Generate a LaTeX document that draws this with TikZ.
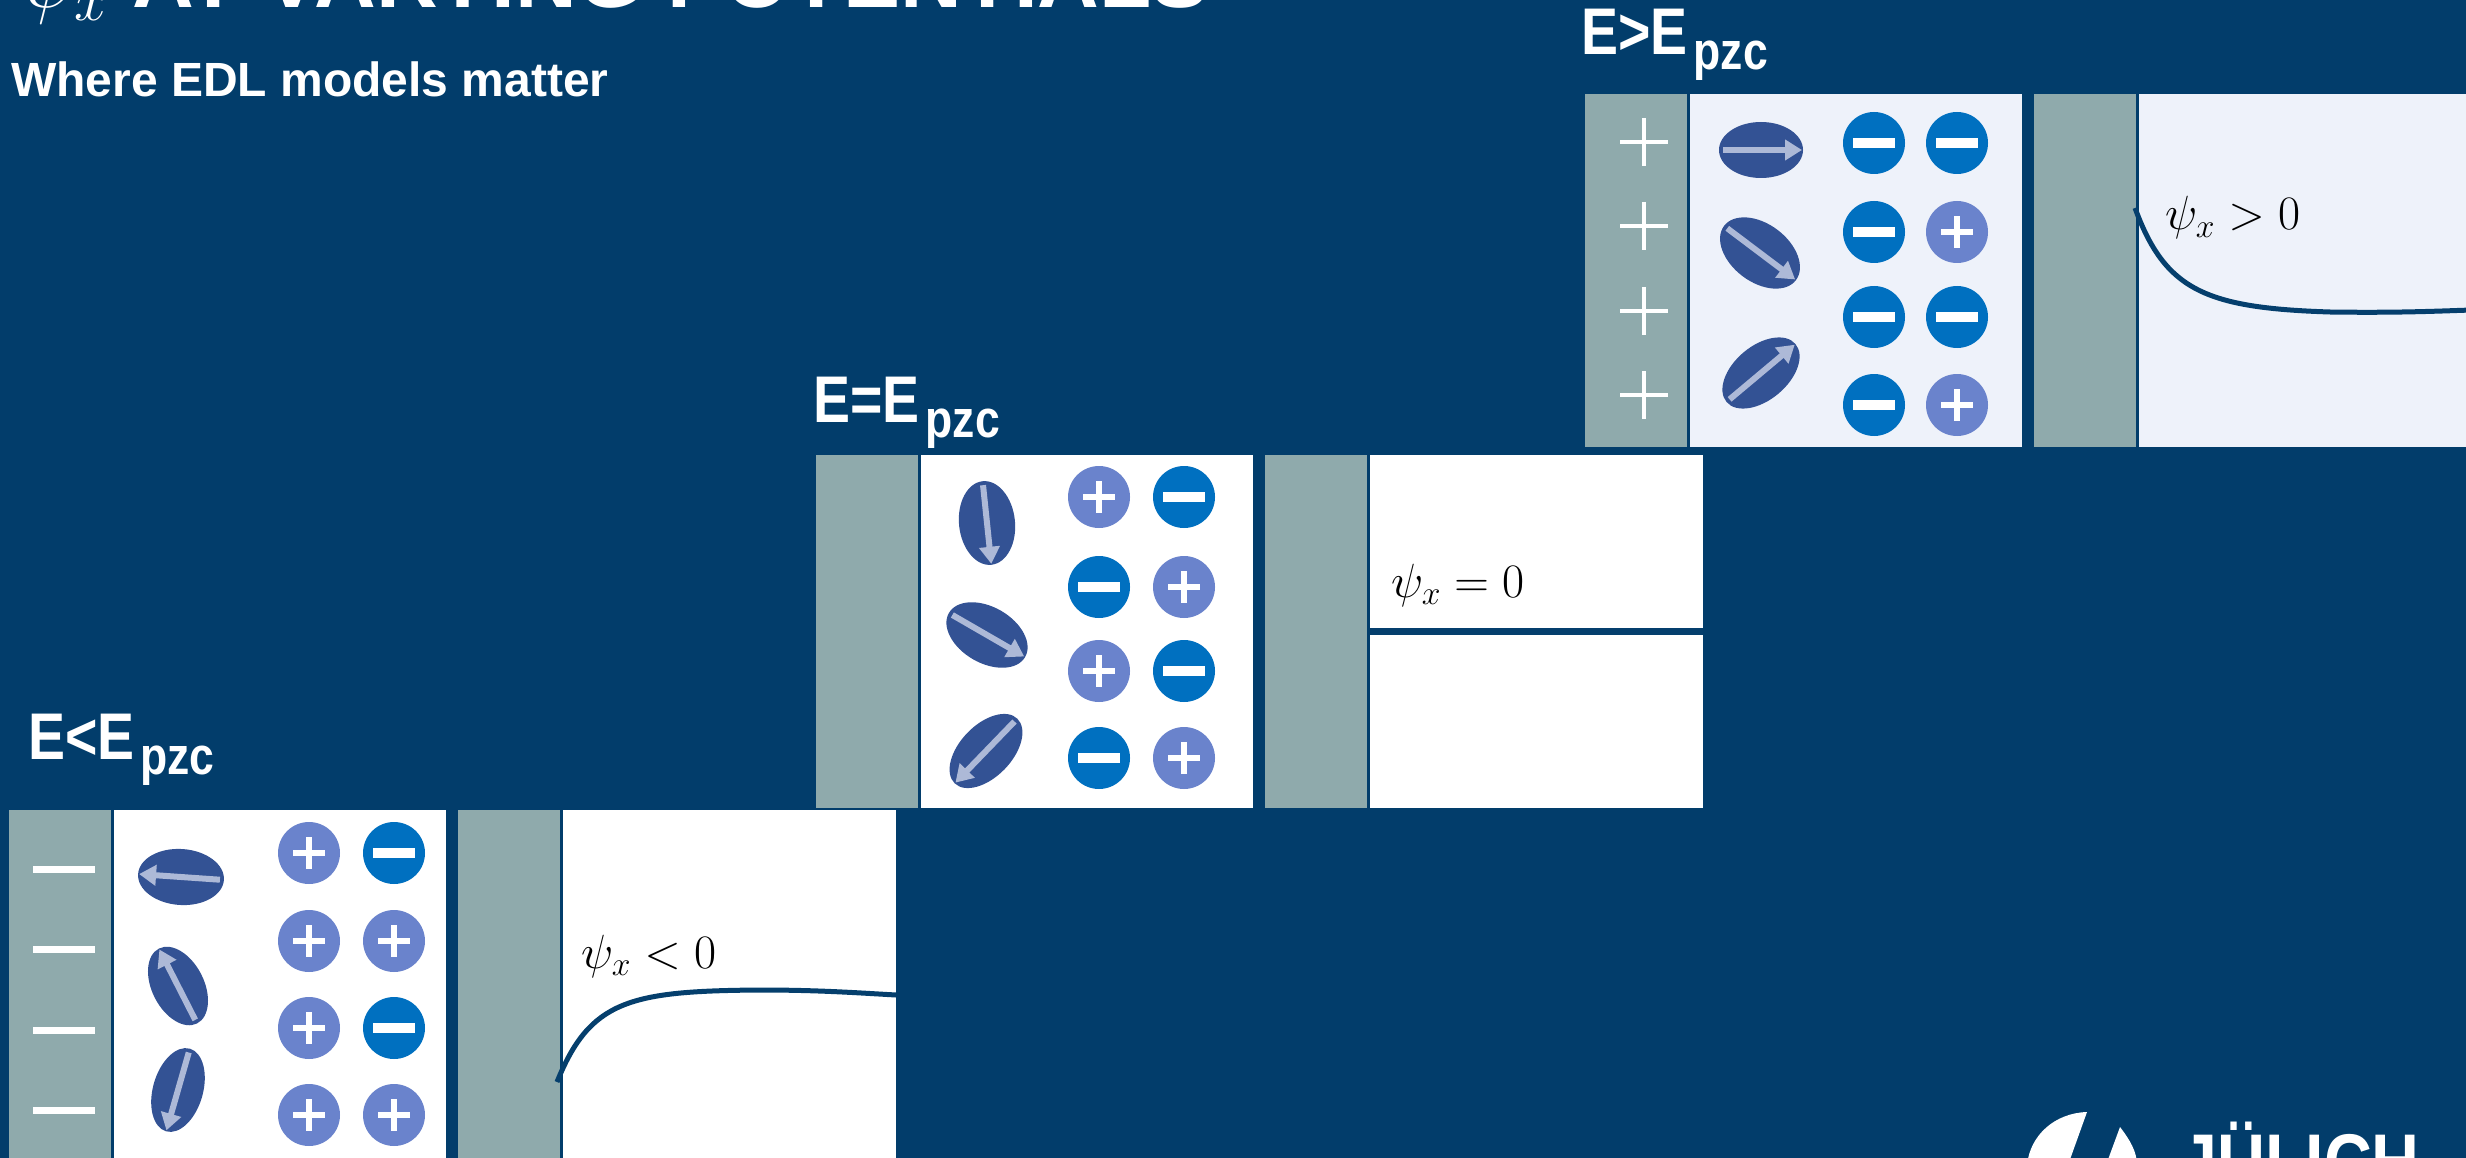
\RequirePackage{fix-cm}
\documentclass[tikz,border=0pt]{standalone}
\usepackage{fontspec}
\setmainfont{Liberation Sans}
\newfontfamily\narrowfont[FakeStretch=0.84]{Liberation Sans}
\usetikzlibrary{arrows.meta}

\definecolor{slideblue}{HTML}{023D6B}
\definecolor{electrodegray}{HTML}{8FAAAC}
\definecolor{palebath}{HTML}{EEF2FA}
\definecolor{molblue}{HTML}{335294}
\definecolor{dipolegray}{HTML}{ADB9D7}
\definecolor{anionblue}{HTML}{0070C0}
\definecolor{cationblue}{HTML}{6A83CC}
\definecolor{curveblue}{HTML}{053F6D}

\newcommand{\pzc}{\kern6pt\raisebox{-15pt}{\fontsize{53}{53}\selectfont pzc}}

\begin{document}
\begin{tikzpicture}[
    x = 1pt, y = -1pt,
    electrode/.style = {fill = electrodegray},
    molecule/.style = {fill = molblue},
    dipole/.style = {
        draw = dipolegray,
        line width = 6pt,
        -{Triangle[width = 20pt, length = 17pt]}
    },
    anion/.style = {fill = anionblue},
    cation/.style = {fill = cationblue},
    ionsign/.style = {draw = white, line width = 6pt},
    chargemark/.style = {draw = white, line width = 3.5pt},
    potential/.style = {draw = curveblue, line width = 5pt},
    panellabel/.style = {
        anchor = base west,
        inner sep = 0,
        text = white,
        font = \narrowfont\bfseries\fontsize{66}{70}\selectfont
    },
    psilabel/.style = {
        anchor = base west,
        inner sep = 0,
        font = \fontsize{48}{52}\selectfont
    }
]

\useasboundingbox (0, 0) rectangle (2466, 1158);
\clip (0, 0) rectangle (2466, 1158);
\fill[slideblue] (0, 0) rectangle (2466, 1158);

% Title
\node[anchor = base west, inner sep = 0, text = white,
      font = \bfseries\fontsize{85.5}{90}\selectfont] (title) at (20, 8)
      {$\psi_x$ AT VARYING POTENTIALS};
\node[anchor = base west, inner sep = 0, text = white,
      font = \bfseries\fontsize{48}{50}\selectfont] (subtitle) at (11, 97)
      {Where EDL models matter};

% Panels: electrode | double layer | electrode | potential
\foreach \px/\py/\bg in {9/810/white, 816/455/white, 1585/94/palebath} {
    \fill[electrode] (\px, \py) rectangle (\px+102, \py+353);
    \fill[\bg] (\px+104.5, \py) rectangle (\px+437, \py+353);
    \fill[electrode] (\px+449, \py) rectangle (\px+551, \py+353);
    \fill[\bg] (\px+553.5, \py) rectangle (\px+887, \py+353);
}

% Panel labels
\node[panellabel] (lblneg) at (28, 759) {E<E\pzc};
\node[panellabel] (lblzero) at (813, 422) {E=E\pzc};
\node[panellabel] (lblpos) at (1581, 55) {E>E\pzc};

% Surface charge on the electrodes
\foreach \y in {869, 949, 1030, 1110} {
    \fill[white] (33, \y-3.5) rectangle (95, \y+3.5);
}
\foreach \y in {142, 226, 311, 395} {
    \draw[chargemark] (1620, \y) -- (1668, \y) (1644, \y-24) -- (1644, \y+24);
}

% Water dipoles (centre / angle / half axes)
\foreach \cx/\cy/\ang/\a/\b in {181/877/176/43/28, 178/986/117/42/26, 178/1090/-106/43/25,
                                987/523/-84/42/28, 987/635/-30/44/28, 986/751/-134/45/26,
                                1761/150/0/42/28, 1760/253/-37/45/29, 1761/373/40/45/27} {
    \fill[molecule, rotate around = {\ang:(\cx, \cy)}] (\cx, \cy) ellipse [x radius = \a, y radius = \b];
    \draw[dipole, rotate around = {\ang:(\cx, \cy)}] (\cx-\a+4, \cy) -- (\cx+\a-1, \cy);
}

% Anions
\foreach \cx/\cy in {394/853, 394/1028,
                     1184/497, 1099/587, 1184/671, 1099/758,
                     1874/143, 1957/143, 1874/232, 1874/317, 1957/317, 1874/405} {
    \fill[anion] (\cx, \cy) circle [radius = 31];
    \fill[white] (\cx-21, \cy-5) rectangle (\cx+21, \cy+5);
}

% Cations
\foreach \cx/\cy in {309/853, 309/941, 394/941, 309/1028, 309/1115, 394/1115,
                     1099/497, 1184/587, 1099/671, 1184/758,
                     1957/232, 1957/405} {
    \fill[cation] (\cx, \cy) circle [radius = 31];
    \draw[ionsign] (\cx-16, \cy) -- (\cx+16, \cy) (\cx, \cy-16) -- (\cx, \cy+16);
}

% Potential profiles
\draw[potential] (557, 1082) .. controls (590, 1000) and (630, 991) .. (760, 990)
                 .. controls (820, 990) and (860, 993) .. (896, 995);
\draw[potential, line width = 7pt] (1369.5, 631) -- (1703, 631);
\draw[potential] (2135, 208) .. controls (2165, 290) and (2205, 308) .. (2330, 312)
                 .. controls (2400, 313) and (2440, 311) .. (2472, 310);

\node[psilabel] (psineg) at (581, 968) {$\psi_x < 0$};
\node[psilabel] (psizero) at (1391, 597) {$\psi_x = 0$};
\node[psilabel] (psipos) at (2165, 230) {$\psi_x > 0$};

% Logo
\fill[white] (2087, 1112) .. controls (2055, 1113) and (2030, 1135) .. (2027, 1165)
             -- (2068, 1165) -- cycle;
\fill[white] (2120, 1127) .. controls (2130, 1140) and (2137, 1152) .. (2137, 1165)
             -- (2106, 1165) -- cycle;
\node[anchor = base west, inner sep = 0, text = white,
      font = \narrowfont\bfseries\fontsize{79}{80}\selectfont] (logo) at (2180, 1189)
      {JÜLICH};

\end{tikzpicture}
\end{document}
